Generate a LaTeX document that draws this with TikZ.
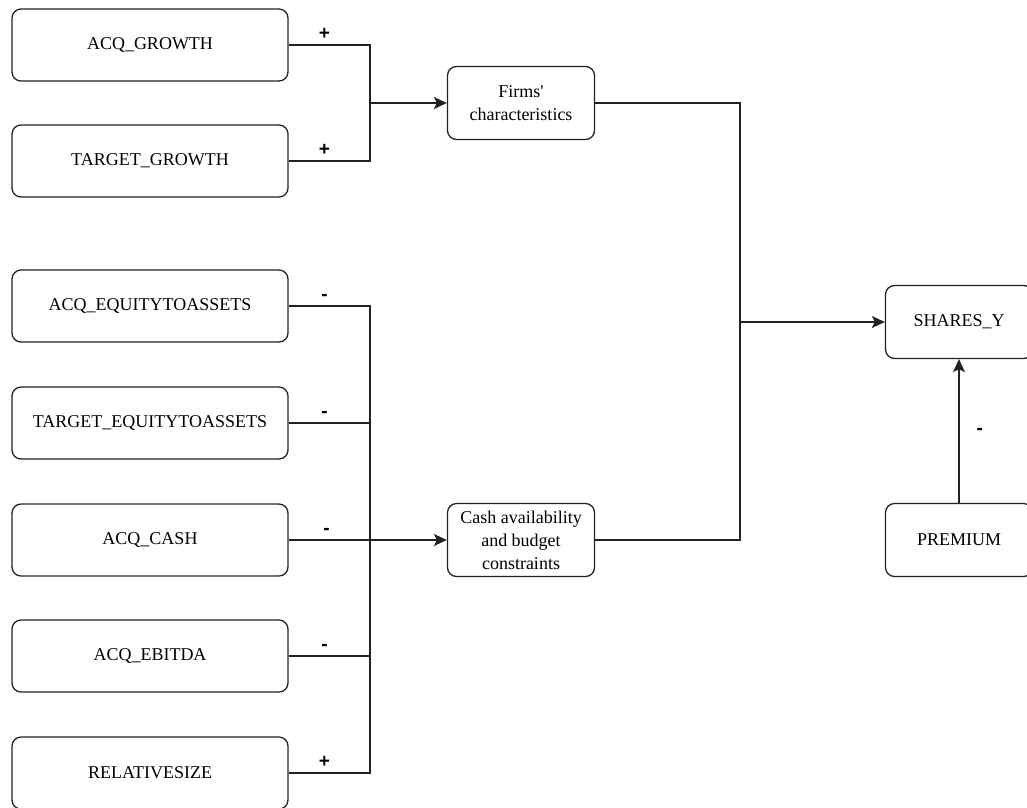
\documentclass[tikz,border=0pt]{standalone}
\usepackage{fontspec}
\setmainfont{Liberation Serif}
\newfontfamily\signfont{Liberation Sans}
\usetikzlibrary{arrows.meta}
\definecolor{ink}{HTML}{222222}

\tikzset{
  box/.style={draw=ink, rounded corners=9pt, line width=1.3pt, align=center, inner sep=2pt, text=black},
  widebox/.style={box, minimum width=276pt, minimum height=72pt},
  midbox/.style={box, minimum width=147pt, minimum height=73pt},
  sign/.style={font=\signfont\bfseries\fontsize{19}{19}\selectfont, inner sep=1pt},
  link/.style={draw=ink, line width=1.3pt}
}

\begin{document}
\begin{tikzpicture}[x=1pt,y=-1pt,>={Stealth[length=13pt,width=12pt,inset=3pt]}, every node/.style={font=\fontsize{18}{23}\selectfont}]
  \useasboundingbox (0,0) rectangle (1027,807);
  % predictors
  \node[widebox] (acqgrowth) at (150,45) {ACQ\_GROWTH};
  \node[widebox] (targrowth) at (150,161) {TARGET\_GROWTH};
  \node[widebox] (acqeq) at (150,306) {ACQ\_EQUITYTOASSETS};
  \node[widebox] (tareq) at (150,423) {TARGET\_EQUITYTOASSETS};
  \node[widebox] (acqcash) at (150,540) {ACQ\_CASH};
  \node[widebox] (acqebitda) at (150,656) {ACQ\_EBITDA};
  \node[widebox] (relsize) at (150,773) {RELATIVESIZE};
  % groups
  \node[midbox] (firms) at (521,103) {Firms\textquotesingle\\characteristics};
  \node[midbox] (cash) at (521,540) {Cash availability\\and budget\\constraints};
  \node[midbox] (shares) at (959,322) {SHARES\_Y};
  \node[midbox] (premium) at (959,540) {PREMIUM};
  \coordinate (jtop) at (370,103);
  \coordinate (jbot) at (370,540);
  \coordinate (jright) at (740,322);
  % links
  \draw[link] (acqgrowth.east) -| node[sign,pos=0.22,above=4pt] (s1) {+} (jtop);
  \draw[link] (targrowth.east) -| node[sign,pos=0.22,above=4pt] (s2) {+} (jtop);
  \draw[link,->] (jtop) -- (firms.west);
  \draw[link] (acqeq.east) -| node[sign,pos=0.22,above=4pt] (s3) {-} (jbot);
  \draw[link] (tareq.east) -| node[sign,pos=0.22,above=4pt] (s4) {-} (jbot);
  \draw[link] (acqebitda.east) -| node[sign,pos=0.22,above=4pt] (s6) {-} (jbot);
  \draw[link] (relsize.east) -| node[sign,pos=0.22,above=4pt] (s7) {+} (jbot);
  \draw[link,->] (acqcash.east) -- node[sign,pos=0.24,above=4pt] (s5) {-} (cash.west);
  \draw[link] (firms.east) -| (jright);
  \draw[link] (cash.east) -| (jright);
  \draw[link,->] (jright) -- (shares.west);
  \draw[link,->] (premium.north) -- node[sign,right=16pt] (s8) {-} (shares.south);
\end{tikzpicture}
\end{document}
